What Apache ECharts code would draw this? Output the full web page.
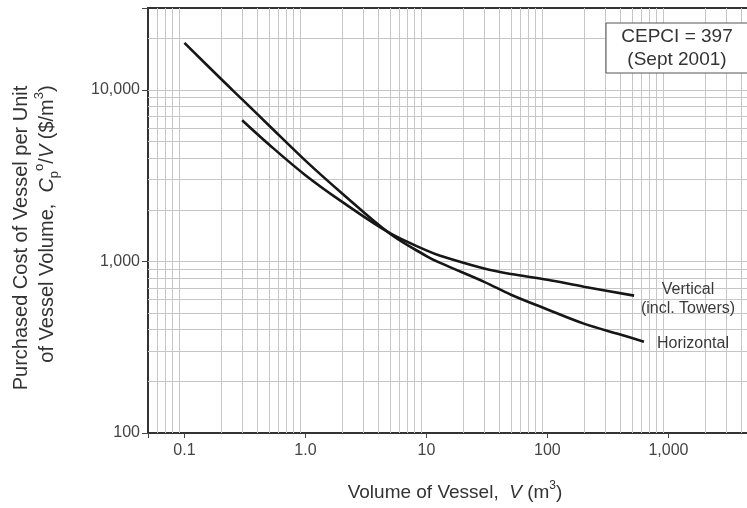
<!DOCTYPE html>
<html>
<head>
<meta charset="utf-8">
<script src="https://cdn.jsdelivr.net/npm/echarts@6/dist/echarts.min.js"></script>
<style>
  html, body { margin: 0; padding: 0; background: #ffffff; }
  #chart { width: 747px; height: 508px; }
</style>
</head>
<body>
<div id="chart"></div>
<script>
// ---- data ----
const xTickValues = [0.1, 1, 10, 100, 1000];
const xTickLabels = ['0.1', '1.0', '10', '100', '1,000'];
const yTickValues = [100, 1000, 10000];
const yTickLabels = ['100', '1,000', '10,000'];

// Horizontal vessels: volume (m3) and cost per unit volume ($/m3)
const horizVolume = [0.1, 0.2, 0.3, 0.5, 1, 2, 5, 10, 13, 30, 50, 100, 200, 400, 628];
const horizCost   = [18800, 11600, 8800, 6200, 3870, 2500, 1450, 1075, 980, 760, 640, 525, 434, 375, 340];

// Vertical vessels (incl. towers)
const vertVolume = [0.3, 0.5, 1, 2, 5, 10, 13, 30, 50, 100, 200, 520];
const vertCost   = [6650, 4800, 3180, 2230, 1460, 1160, 1080, 910, 845, 782, 712, 632];

// log-paper grid multipliers (2..9 in each decade)
const gridMultipliers = [2, 3, 4, 5, 6, 7, 8, 9];
const xDecades = [0.01, 0.1, 1, 10, 100, 1000];
const yDecades = [10, 100, 1000, 10000];

const xGridValues = [];
xDecades.forEach(d => gridMultipliers.forEach(m => {
  const v = +(d * m).toPrecision(6);
  if (v > 0.05 && v < 5000) xGridValues.push(v);
}));
const yGridValues = [];
yDecades.forEach(d => [1].concat(gridMultipliers).forEach(m => {
  const v = +(d * m).toPrecision(6);
  if (v > 100 && v < 30000) yGridValues.push(v);
}));

function matchLabel(v, values, labels) {
  for (let i = 0; i < values.length; i++) {
    if (Math.abs(Math.log10(v) - Math.log10(values[i])) < 1e-6) return labels[i];
  }
  return '';
}

const FONT = "'Liberation Sans', Arial, Helvetica, sans-serif";
const chart = echarts.init(document.getElementById('chart'), null, { renderer: 'canvas' });

const gridLineData = []
  .concat(xGridValues.map(v => ({ xAxis: v })))
  .concat(yGridValues.map(v => ({ yAxis: v })));

const option = {
  animation: false,
  backgroundColor: '#ffffff',
  grid: {
    left: 148, top: 8, width: 605, height: 425,
    containLabel: false, outerBoundsMode: 'none',
    show: true, borderColor: '#333333', borderWidth: 2, backgroundColor: 'transparent'
  },
  xAxis: {
    type: 'log', logBase: 10, min: 0.05, max: 5000,
    axisLine: { show: true, lineStyle: { color: '#333333', width: 2 } },
    axisTick: { show: true, inside: false, length: 5, lineStyle: { color: '#444', width: 1 } },
    axisLabel: {
      show: true, margin: 10, color: '#444', fontSize: 16, fontFamily: FONT,
      formatter: v => matchLabel(v, xTickValues, xTickLabels)
    },
    splitLine: { show: false }
  },
  yAxis: {
    type: 'log', logBase: 10, min: 100, max: 30000,
    axisLine: { show: true, lineStyle: { color: '#333333', width: 2 } },
    axisTick: { show: true, inside: false, length: 6, lineStyle: { color: '#444', width: 1 } },
    axisLabel: {
      show: true, margin: 8, color: '#444', fontSize: 16, fontFamily: FONT,
      formatter: v => matchLabel(v, yTickValues, yTickLabels)
    },
    splitLine: { show: false }
  },
  series: [
    {
      type: 'line', name: 'grid', data: [], z: 1, silent: true,
      markLine: {
        silent: true, symbol: ['none', 'none'], animation: false,
        label: { show: false },
        lineStyle: { color: '#c6c6c6', width: 1, type: 'solid' },
        emphasis: { disabled: true },
        data: gridLineData
      }
    },
    {
      type: 'line', name: 'Horizontal', z: 5,
      data: horizVolume.map((v, i) => [v, horizCost[i]]),
      smooth: 0.35, symbol: 'none',
      lineStyle: { color: '#161616', width: 2.6 }
    },
    {
      type: 'line', name: 'Vertical', z: 5,
      data: vertVolume.map((v, i) => [v, vertCost[i]]),
      smooth: 0.35, symbol: 'none',
      lineStyle: { color: '#161616', width: 2.6 }
    }
  ],
  graphic: [
    // CEPCI box
    {
      type: 'rect', z: 20,
      shape: { x: 606, y: 23, width: 142, height: 50 },
      style: { fill: '#ffffff', stroke: '#555555', lineWidth: 1 }
    },
    {
      type: 'text', z: 21, x: 677, y: 48,
      style: {
        text: 'CEPCI = 397\n(Sept 2001)', align: 'center', verticalAlign: 'middle',
        font: '19px ' + FONT, fill: '#333333', lineHeight: 23
      }
    },
    // curve labels
    {
      type: 'text', z: 21, x: 688, y: 299,
      style: {
        text: 'Vertical\n(incl. Towers)', align: 'center', verticalAlign: 'middle',
        font: '16px ' + FONT, fill: '#3a3a3a', lineHeight: 19
      }
    },
    {
      type: 'text', z: 21, x: 693, y: 344,
      style: {
        text: 'Horizontal', align: 'center', verticalAlign: 'middle',
        font: '16px ' + FONT, fill: '#3a3a3a'
      }
    },
    // x axis title
    {
      type: 'text', z: 21, x: 455, y: 493,
      style: {
        text: '{n|Volume of Vessel,  }{i|V}{n| (m}{sp|3}{n|)}',
        align: 'center', verticalAlign: 'middle',
        rich: {
          n: { fontSize: 19, fontFamily: FONT, fill: '#333', lineHeight: 26, verticalAlign: 'middle' },
          i: { fontSize: 19, fontFamily: FONT, fontStyle: 'italic', fill: '#333', lineHeight: 26, verticalAlign: 'middle' },
          sp: { fontSize: 12, fontFamily: FONT, fill: '#333', lineHeight: 12, verticalAlign: 'top' }
        }
      }
    },
    // y axis title (two lines, rotated)
    {
      type: 'text', z: 21, x: 21, y: 238, rotation: Math.PI / 2,
      style: {
        text: 'Purchased Cost of Vessel per Unit',
        align: 'center', verticalAlign: 'middle',
        font: '20px ' + FONT, fill: '#333'
      }
    },
    {
      type: 'text', z: 21, x: 47, y: 224, rotation: Math.PI / 2,
      style: {
        text: '{n|of Vessel Volume,  }{i|C}{sb|p}{sp|o}{n|/}{i|V}{n| ($/m}{sp|3}{n|)}',
        align: 'center', verticalAlign: 'middle',
        rich: {
          n: { fontSize: 20, fontFamily: FONT, fill: '#333', lineHeight: 28, verticalAlign: 'middle' },
          i: { fontSize: 20, fontFamily: FONT, fontStyle: 'italic', fill: '#333', lineHeight: 28, verticalAlign: 'middle' },
          sp: { fontSize: 13, fontFamily: FONT, fill: '#333', lineHeight: 14, verticalAlign: 'top' },
          sb: { fontSize: 13, fontFamily: FONT, fill: '#333', lineHeight: 14, verticalAlign: 'bottom' }
        }
      }
    }
  ]
};
chart.setOption(option);
</script>
</body>
</html>
